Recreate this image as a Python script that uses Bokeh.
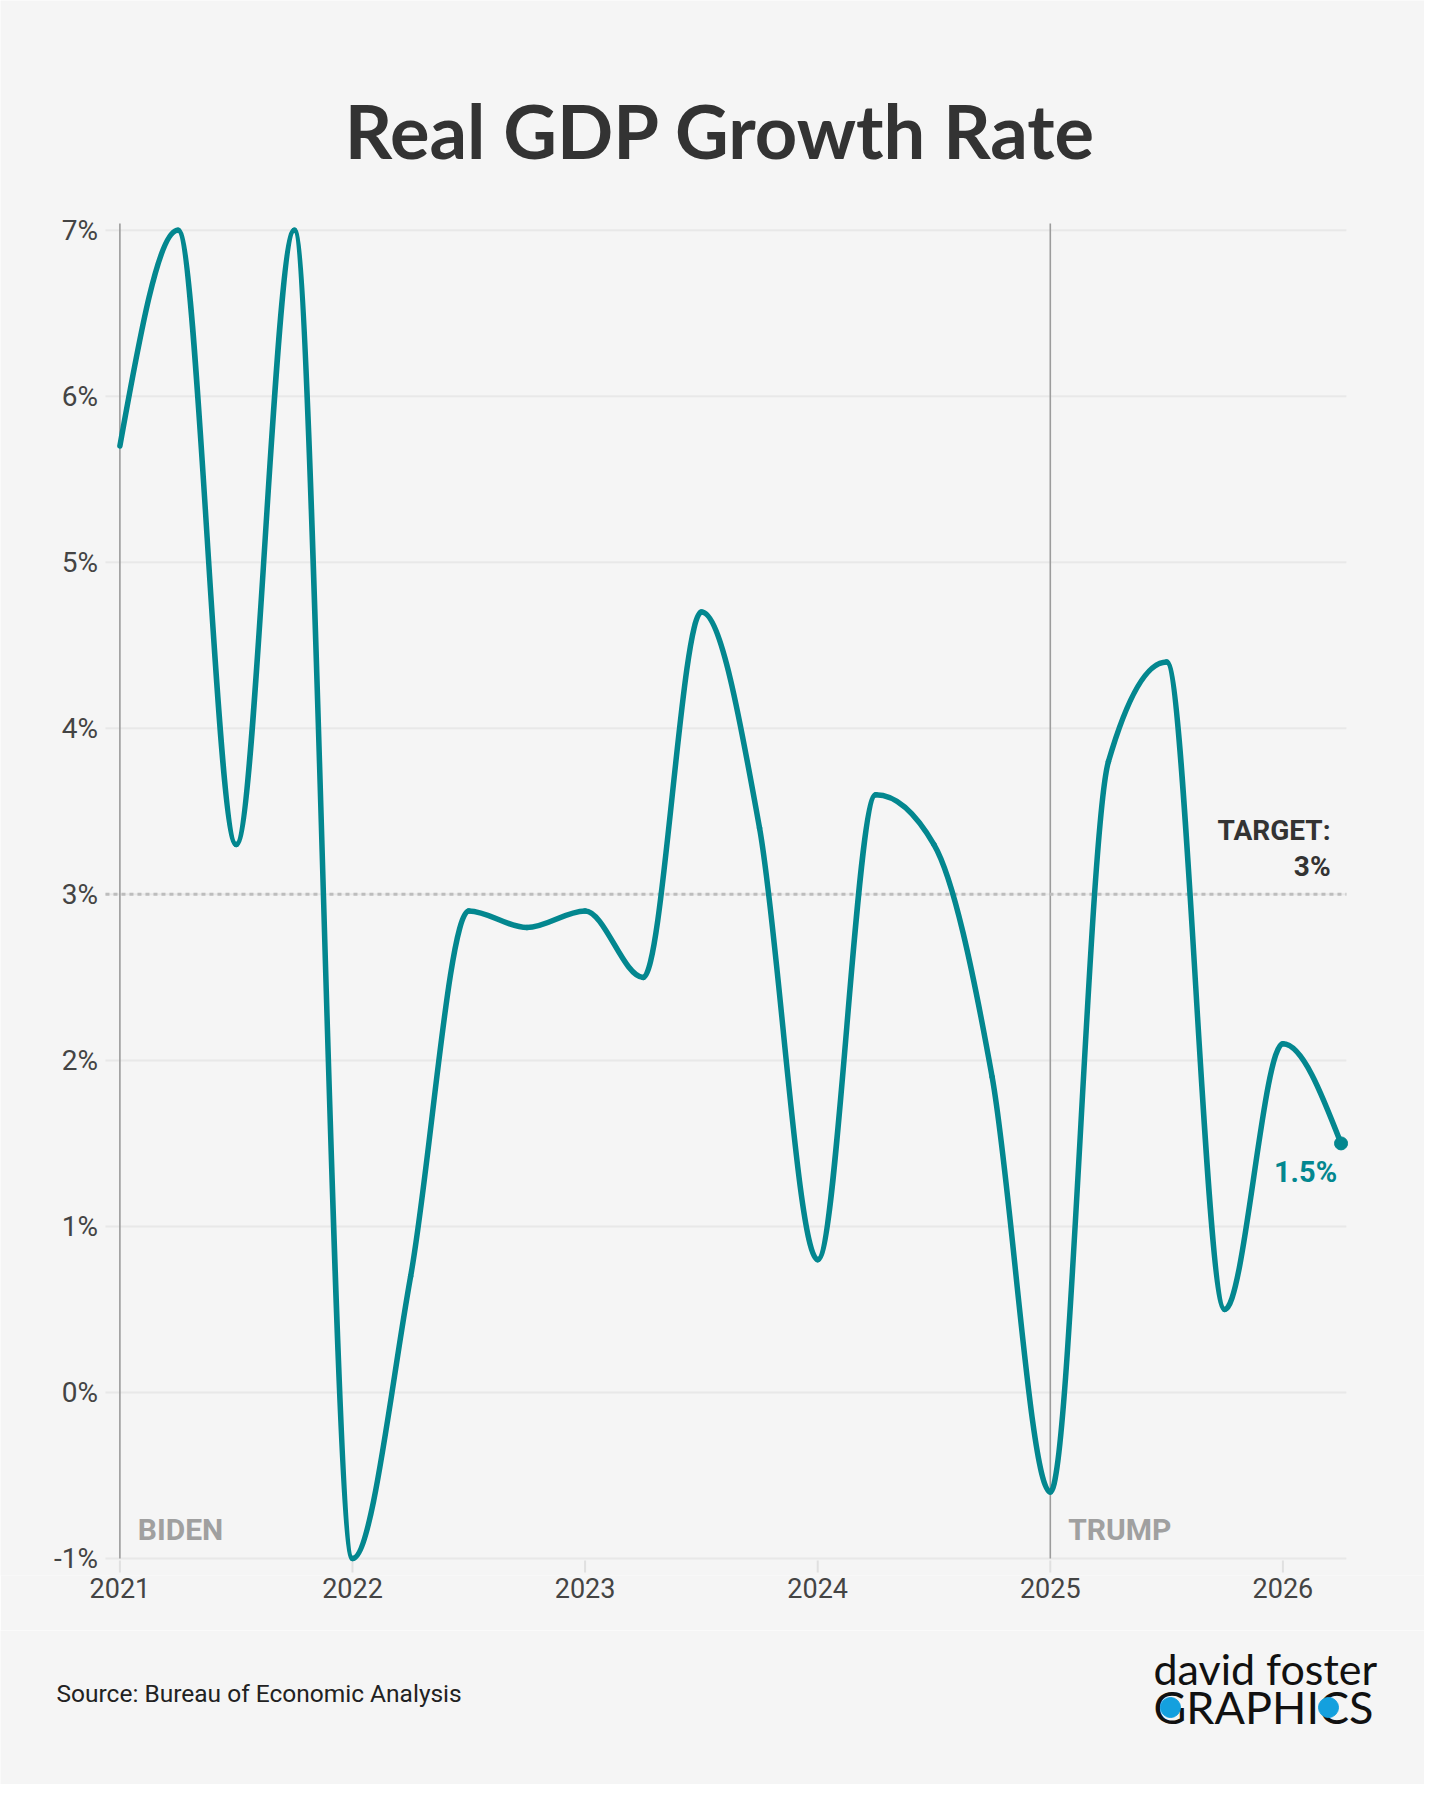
import numpy as np
from bokeh.plotting import figure
from bokeh.layouts import column
from bokeh.models import Label, FixedTicker, Range1d, ColumnDataSource
from bokeh.core.properties import value
from bokeh.embed import file_html
from bokeh.resources import INLINE

# ---- data ----
quarters = [2021.0, 2021.25, 2021.5, 2021.75,
            2022.0, 2022.25, 2022.5, 2022.75,
            2023.0, 2023.25, 2023.5, 2023.75,
            2024.0, 2024.25, 2024.5, 2024.75,
            2025.0, 2025.25, 2025.5, 2025.75,
            2026.0, 2026.25]
gdp = [5.7, 7.0, 3.3, 7.0,
       -1.0, 0.7, 2.9, 2.8,
       2.9, 2.5, 4.7, 3.4,
       0.8, 3.6, 3.3, 1.9,
       -0.6, 3.8, 4.4, 0.5,
       2.1, 1.5]
target = 3.0
term_starts = [2021, 2025]
term_names = ["BIDEN", "TRUMP"]
x_ticks = [2021, 2022, 2023, 2024, 2025, 2026]
x_tick_labels = ["2021", "2022", "2023", "2024", "2025", "2026"]
y_ticks = [-1, 0, 1, 2, 3, 4, 5, 6, 7]
y_tick_labels = ["-1%", "0%", "1%", "2%", "3%", "4%", "5%", "6%", "7%"]
title_text = "Real GDP Growth Rate"
source_text = "Source: Bureau of Economic Analysis"

TEAL = "#03878f"
BG = "#f5f5f5"
DARK = "#333333"
W = 1424
H_CHART, H_FOOT = 1630, 154
GRID_X0, GRID_X1 = 2020.938, 2026.273   # horizontal extent of the plotting area
LABEL_X = 2020.906                      # right edge of the y tick labels
LINE_TOP = 7.04                         # top of the vertical term lines
TICK_Y0, TICK_Y1 = -1.012, -1.084       # small x ticks below the -1% line

# ---- monotone-x cubic (d3 curveMonotoneX) bezier segments ----
xs = np.array(quarters, dtype=float)
ys = np.array(gdp, dtype=float)
n = len(xs)
h = np.diff(xs)
s = np.diff(ys) / h
t = np.zeros(n)
sg = lambda v: -1.0 if v < 0 else 1.0
for i in range(1, n - 1):
    pp = (s[i - 1] * h[i] + s[i] * h[i - 1]) / (h[i - 1] + h[i])
    t[i] = (sg(s[i - 1]) + sg(s[i])) * min(abs(s[i - 1]), abs(s[i]), 0.5 * abs(pp))
t[0] = (3 * s[0] - t[1]) / 2
t[-1] = (3 * s[-1] - t[-2]) / 2
dx = h / 3.0
seg = ColumnDataSource(dict(
    x0=xs[:-1], y0=ys[:-1], x1=xs[1:], y1=ys[1:],
    cx0=xs[:-1] + dx, cy0=ys[:-1] + dx * t[:-1],
    cx1=xs[1:] - dx, cy1=ys[1:] - dx * t[1:],
))

# ---- chart (frame spans the full width and reaches the top of the page) ----
fig = figure(width=W, height=H_CHART, output_backend="svg", toolbar_location=None,
             x_range=Range1d(2020.4867, 2026.6088), y_range=Range1d(-1.1024, 8.3837),
             y_axis_location=None,
             min_border_left=0, min_border_right=0, min_border_top=0,
             min_border_bottom=55)
fig.background_fill_color = BG
fig.border_fill_color = BG
fig.outline_line_color = None
fig.grid.grid_line_color = None

# title
fig.text(x=[2023.582], y=[7.6006], text=[title_text], text_font=value("Lato"),
         text_font_style="bold", text_font_size="74px", text_color=DARK,
         text_align="center", text_baseline="alphabetic")

# gridlines limited to the plotting area
fig.segment(x0=[GRID_X0] * len(y_ticks), x1=[GRID_X1] * len(y_ticks), y0=y_ticks, y1=y_ticks,
            line_color="#e8e8e8", line_width=2)
# y tick labels
fig.text(x=[LABEL_X] * len(y_ticks), y=y_ticks, text=y_tick_labels, text_font=value("Roboto"),
         text_font_size="28px", text_color="#444444", text_align="right",
         text_baseline="middle")

# x axis (labels only) + small light ticks
fig.xaxis.ticker = FixedTicker(ticks=x_ticks)
fig.xaxis.major_label_overrides = dict(zip(x_ticks, x_tick_labels))
fig.xaxis.axis_line_color = None
fig.xaxis.major_tick_in = 0
fig.xaxis.major_tick_out = 0
fig.xaxis.major_tick_line_color = None
fig.xaxis.minor_tick_line_color = None
fig.xaxis.major_label_standoff = 2
fig.xaxis.major_label_text_font = "Roboto"
fig.xaxis.major_label_text_font_size = "27px"
fig.xaxis.major_label_text_color = "#444444"
fig.segment(x0=x_ticks, x1=x_ticks, y0=[TICK_Y0] * len(x_ticks), y1=[TICK_Y1] * len(x_ticks),
            line_color="#e0e0e0", line_width=2)

# term lines
fig.segment(x0=term_starts, x1=term_starts, y0=[LINE_TOP] * len(term_starts),
            y1=[y_ticks[0]] * len(term_starts), line_color="#9c9c9c", line_width=1.6)

# target line
fig.segment(x0=[GRID_X0], x1=[GRID_X1], y0=[target], y1=[target], line_color="#bdbdbd",
            line_width=3, line_dash="4 4")

# series
fig.bezier(x0="x0", y0="y0", x1="x1", y1="y1", cx0="cx0", cy0="cy0", cx1="cx1", cy1="cy1",
           source=seg, line_color=TEAL, line_width=5.5, line_cap="round")
fig.scatter(x=[quarters[-1]], y=[gdp[-1]], size=13, color=TEAL)

for xv, name in zip(term_starts, term_names):
    fig.add_layout(Label(x=xv + 0.077, y=-0.827, text=name, text_font="Roboto",
                         text_font_style="bold", text_font_size="30px",
                         text_color="#a0a0a0", text_baseline="alphabetic"))

fig.add_layout(Label(x=2026.205, y=3.386, text="TARGET:", text_font="Roboto",
                     text_font_style="bold", text_font_size="28px", text_color=DARK,
                     text_align="right", text_baseline="alphabetic"))
fig.add_layout(Label(x=2026.205, y=3.168, text="%g%%" % target, text_font="Roboto",
                     text_font_style="bold", text_font_size="28px", text_color=DARK,
                     text_align="right", text_baseline="alphabetic"))

fig.add_layout(Label(x=2026.233, y=1.329, text="%g%%" % gdp[-1], text_font="Roboto",
                     text_font_style="bold", text_font_size="29px", text_color=TEAL,
                     text_align="right", text_baseline="alphabetic"))

# ---- footer ----
foot = figure(width=W, height=H_FOOT, output_backend="svg", toolbar_location=None,
              x_range=Range1d(0, W), y_range=Range1d(0, H_FOOT),
              x_axis_location=None, y_axis_location=None,
              min_border_left=0, min_border_right=0, min_border_top=0, min_border_bottom=0)
foot.background_fill_color = BG
foot.border_fill_color = BG
foot.outline_line_color = None
foot.grid.grid_line_color = None
foot.text(x=[56], y=[91.5], text=[source_text], text_font=value("Roboto"),
          text_font_size="24.5px", text_color="#222222", text_baseline="alphabetic")
foot.text(x=[1153], y=[116], text=["david foster"], text_font=value("Lato"),
          text_font_size="43px", text_color="#111111", text_baseline="alphabetic")
foot.text(x=[1153], y=[78], text=["GRAPHICS"], text_font=value("Lato"),
          text_font_size="45px", text_color="#111111", text_baseline="alphabetic")
foot.scatter(x=[1170, 1328], y=[77, 77], size=20, color="#14a0de")

p = column(fig, foot, spacing=0)

open("out.html", "w").write(file_html(p, INLINE))
